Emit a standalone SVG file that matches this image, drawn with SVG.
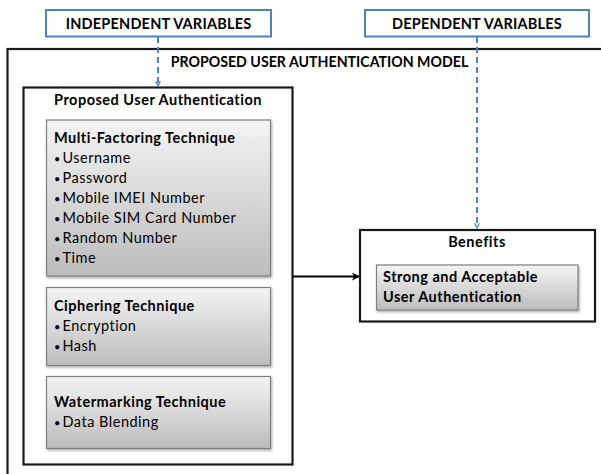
<svg xmlns="http://www.w3.org/2000/svg" width="601" height="474" viewBox="0 0 601 474">
<defs>
<linearGradient id="g" x1="0" y1="0" x2="0" y2="1">
<stop offset="0" stop-color="#f4f4f4"/>
<stop offset="1" stop-color="#bcbcbc"/>
</linearGradient>
<marker id="chev" viewBox="0 0 10 10" refX="9" refY="5" markerWidth="6" markerHeight="6" orient="auto" markerUnits="userSpaceOnUse">
<path d="M1,1 L9,5 L1,9" fill="none" stroke="#4f81bd" stroke-width="2"/>
</marker>
<marker id="arr" viewBox="0 0 10 10" refX="9" refY="5" markerWidth="8" markerHeight="8" orient="auto" markerUnits="userSpaceOnUse">
<path d="M0,0 L10,5 L0,10 L3,5 Z" fill="#000"/>
</marker>
<filter id="sh" x="-5%" y="-5%" width="115%" height="120%">
<feDropShadow dx="1" dy="1.5" stdDeviation="1" flood-color="#000" flood-opacity="0.35"/>
</filter>
</defs>
<style>
.t{font-family:Lato,"Liberation Sans",sans-serif;fill:#000}
.u{font-size:14.5px;font-weight:bold;letter-spacing:0.2px}
.m{font-size:14.2px;font-weight:bold}
.h{font-size:14.5px;font-weight:bold;letter-spacing:0.5px}
.r{font-size:14.5px;letter-spacing:0.5px}
.bl{font-size:11px;letter-spacing:0}
.var{fill:#fff;stroke:#4f81bd;stroke-width:2}
.frame{fill:#fff;stroke:#1a1a1a;stroke-width:2.2}
.tech{fill:url(#g);stroke:#7f7f7f;stroke-width:1.2;filter:url(#sh)}
.dash{fill:none;stroke:#4f81bd;stroke-width:2;stroke-dasharray:6,4}
</style>

<g id="model">
<rect class="frame" x="7.5" y="49" width="610" height="440"/>
<text class="t m" x="319.5" y="67" text-anchor="middle">PROPOSED USER AUTHENTICATION MODEL</text>
</g>

<g id="independent">
<rect class="var" x="46" y="10" width="225" height="26.5"/>
<text class="t u" x="158.5" y="28.5" text-anchor="middle">INDEPENDENT VARIABLES</text>
</g>

<g id="dependent">
<rect class="var" x="365" y="10" width="224" height="26.5"/>
<text class="t u" x="477" y="28.5" text-anchor="middle">DEPENDENT VARIABLES</text>
</g>

<g id="proposed">
<rect class="frame" x="23.5" y="87.5" width="269" height="377"/>
<text class="t h" x="158" y="105" text-anchor="middle">Proposed User Authentication</text>
</g>

<g id="multifactor">
<rect class="tech" x="46.5" y="120" width="224" height="156"/>
<text class="t h" x="54" y="143">Multi-Factoring Technique</text>
<text class="t r" x="54" y="163"><tspan class="bl">•</tspan><tspan x="62.5">Username</tspan></text>
<text class="t r" x="54" y="183"><tspan class="bl">•</tspan><tspan x="62.5">Password</tspan></text>
<text class="t r" x="54" y="203"><tspan class="bl">•</tspan><tspan x="62.5">Mobile IMEI Number</tspan></text>
<text class="t r" x="54" y="223"><tspan class="bl">•</tspan><tspan x="62.5">Mobile SIM Card Number</tspan></text>
<text class="t r" x="54" y="243"><tspan class="bl">•</tspan><tspan x="62.5">Random Number</tspan></text>
<text class="t r" x="54" y="263"><tspan class="bl">•</tspan><tspan x="62.5">Time</tspan></text>
</g>

<g id="ciphering">
<rect class="tech" x="46.5" y="287.5" width="224" height="78"/>
<text class="t h" x="54" y="311">Ciphering Technique</text>
<text class="t r" x="54" y="331"><tspan class="bl">•</tspan><tspan x="62.5">Encryption</tspan></text>
<text class="t r" x="54" y="351"><tspan class="bl">•</tspan><tspan x="62.5">Hash</tspan></text>
</g>

<g id="watermarking">
<rect class="tech" x="46.5" y="376.5" width="224" height="72"/>
<text class="t h" x="54" y="407">Watermarking Technique</text>
<text class="t r" x="54" y="427"><tspan class="bl">•</tspan><tspan x="62.5">Data Blending</tspan></text>
</g>

<g id="benefits">
<rect class="frame" x="360" y="230" width="235" height="91.5"/>
<text class="t h" x="477" y="247" text-anchor="middle">Benefits</text>
<rect class="tech" x="376.5" y="265" width="201.5" height="45"/>
<text class="t h" x="383" y="282">Strong and Acceptable</text>
<text class="t h" x="383" y="302">User Authentication</text>
</g>

<g id="connectors">
<path class="dash" d="M158,37 V86" marker-end="url(#chev)"/>
<path class="dash" d="M477,37 V228" marker-end="url(#chev)"/>
<path d="M293,276.5 H359" fill="none" stroke="#000" stroke-width="2" marker-end="url(#arr)"/>
</g>
</svg>
